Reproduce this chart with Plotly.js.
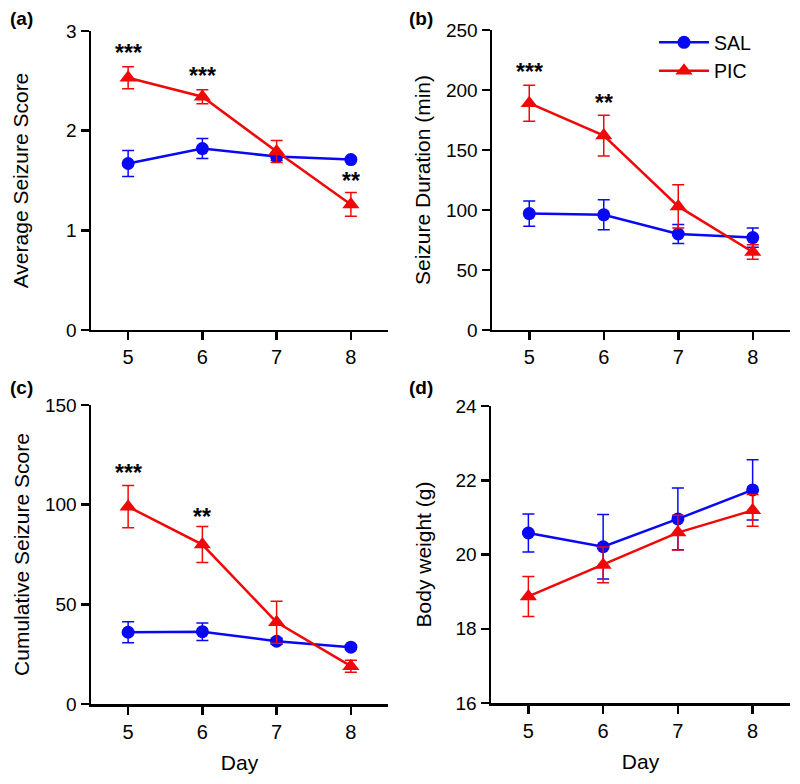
<!DOCTYPE html>
<html>
<head>
<meta charset="utf-8">
<script src="https://cdn.plot.ly/plotly-3.0.1.min.js"></script>
<style>html,body{margin:0;padding:0;background:#fff;}#chart{width:800px;height:784px;}</style>
</head>
<body>
<div id="chart"></div>
<script>
// ---- data ----
var days = [5, 6, 7, 8];
var dayTicks = ['5', '6', '7', '8'];

// (a) Average Seizure Score
var aSal = [1.67, 1.82, 1.74, 1.71];
var aSalErr = [0.13, 0.10, 0.04, 0.02];
var aPic = [2.53, 2.34, 1.79, 1.26];
var aPicErr = [0.11, 0.07, 0.11, 0.12];

// (b) Seizure Duration (min)
var bSal = [97, 96, 80, 77];
var bSalErr = [10.5, 12.5, 8, 8];
var bPic = [189, 162, 103, 65];
var bPicErr = [15, 17, 18, 6];

// (c) Cumulative Seizure Score
var cSal = [36, 36.3, 31.5, 28.5];
var cSalErr = [5.3, 4.4, 1.5, 1];
var cPic = [99, 80, 41, 19];
var cPicErr = [10.6, 9, 10.5, 3];

// (d) Body weight (g)
var dSal = [20.58, 20.21, 20.96, 21.74];
var dSalErr = [0.51, 0.87, 0.83, 0.81];
var dPic = [18.87, 19.72, 20.59, 21.19];
var dPicErr = [0.54, 0.48, 0.47, 0.43];

// significance marks
var aStarDays = [5, 6, 8];
var aStarText = ['***', '***', '**'];
var aStarY = [2.78, 2.55, 1.49];
var bStarDays = [5, 6];
var bStarText = ['***', '**'];
var bStarY = [215, 189];
var cStarDays = [5, 6];
var cStarText = ['***', '**'];
var cStarY = [116, 94];

var panelLabels = ['(a)', '(b)', '(c)', '(d)'];
var yTitles = ['Average Seizure Score', 'Seizure Duration (min)', 'Cumulative Seizure Score', 'Body weight (g)'];
var xTitle = 'Day';
var seriesNames = ['SAL', 'PIC'];

// ---- styling ----
var BLUE = 'rgb(8,8,245)';
var RED = 'rgb(240,8,8)';
var FONT = 'Liberation Sans, Arial, sans-serif';

function series(y, err, name, color, symbol, xa, ya, showLeg) {
  return {
    x: days, y: y, name: name, type: 'scatter', mode: 'lines+markers',
    xaxis: xa, yaxis: ya, showlegend: showLeg, legendgroup: name,
    line: {color: color, width: 2.5},
    marker: {color: color, size: symbol === 'circle' ? 13 : 15, symbol: symbol},
    error_y: {type: 'data', array: err, visible: true, color: color, thickness: 1.5, width: 6},
    cliponaxis: false
  };
}

var data = [
  series(aSal, aSalErr, seriesNames[0], BLUE, 'circle', 'x', 'y', true),
  series(aPic, aPicErr, seriesNames[1], RED, 'triangle-up', 'x', 'y', true),
  series(bSal, bSalErr, seriesNames[0], BLUE, 'circle', 'x2', 'y2', false),
  series(bPic, bPicErr, seriesNames[1], RED, 'triangle-up', 'x2', 'y2', false),
  series(cSal, cSalErr, seriesNames[0], BLUE, 'circle', 'x3', 'y3', false),
  series(cPic, cPicErr, seriesNames[1], RED, 'triangle-up', 'x3', 'y3', false),
  series(dSal, dSalErr, seriesNames[0], BLUE, 'circle', 'x4', 'y4', false),
  series(dPic, dPicErr, seriesNames[1], RED, 'triangle-up', 'x4', 'y4', false)
];

function xAxis(domain, anchor, title) {
  var ax = {
    domain: domain, anchor: anchor, range: [4.5, 8.5],
    tickmode: 'array', tickvals: days, ticktext: dayTicks,
    showline: true, linecolor: '#000', linewidth: 2.5,
    ticks: 'outside', ticklen: 8, tickwidth: 2.5, tickcolor: '#000',
    showgrid: false, zeroline: false,
    tickfont: {family: FONT, size: 20, color: '#000'}
  };
  if (title) ax.title = {text: title, font: {family: FONT, size: 21, color: '#000'}, standoff: 14};
  return ax;
}
function yAxis(domain, anchor, range, dtick, title, standoff) {
  return {
    domain: domain, anchor: anchor, range: range, dtick: dtick, tick0: range[0],
    showline: true, linecolor: '#000', linewidth: 2.5,
    ticks: 'outside', ticklen: 8, tickwidth: 2.5, tickcolor: '#000',
    showgrid: false, zeroline: false,
    tickfont: {family: FONT, size: 19, color: '#000'},
    title: {text: title, font: {family: FONT, size: 21, color: '#000'}, standoff: standoff}
  };
}

var annotations = [];
function addStars(xs, ys, texts, xref, yref) {
  for (var i = 0; i < xs.length; i++) {
    annotations.push({x: xs[i], y: ys[i], xref: xref, yref: yref, text: texts[i], showarrow: false,
      font: {family: FONT, size: 23, color: '#000', weight: 'bold'}, xanchor: 'center', yanchor: 'middle'});
  }
}
addStars(aStarDays, aStarY, aStarText, 'x', 'y');
addStars(bStarDays, bStarY, bStarText, 'x2', 'y2');
addStars(cStarDays, cStarY, cStarText, 'x3', 'y3');

var labelPos = [[21, 18], [421, 18], [21, 387], [421, 387]];
for (var k = 0; k < 4; k++) {
  annotations.push({x: labelPos[k][0] / 800, y: 1 - labelPos[k][1] / 784, xref: 'paper', yref: 'paper',
    text: '<b>' + panelLabels[k] + '</b>', showarrow: false, xanchor: 'center', yanchor: 'middle',
    font: {family: FONT, size: 19, color: '#000'}});
}

var layout = {
  width: 800, height: 784,
  margin: {l: 0, r: 0, t: 0, b: 0},
  paper_bgcolor: '#fff', plot_bgcolor: '#fff',
  font: {family: FONT, color: '#000'},
  showlegend: true,
  legend: {x: 0.8175, y: 0.9705, xanchor: 'left', yanchor: 'top', bgcolor: 'rgba(0,0,0,0)',
    font: {family: FONT, size: 19.5, color: '#000'}, itemwidth: 50, tracegroupgap: 0},
  xaxis: xAxis([0.11375, 0.485], 'y'),
  yaxis: yAxis([0.5791, 0.9605], 'x', [0, 3], 1, yTitles[0], 32),
  xaxis2: xAxis([0.615, 0.9875], 'y2'),
  yaxis2: yAxis([0.5791, 0.9617], 'x2', [0, 250], 50, yTitles[1], 10),
  xaxis3: xAxis([0.11375, 0.485], 'y3', xTitle),
  yaxis3: yAxis([0.1020, 0.4834], 'x3', [0, 150], 50, yTitles[2], 10),
  xaxis4: xAxis([0.61375, 0.9875], 'y4', xTitle),
  yaxis4: yAxis([0.1033, 0.4821], 'x4', [16, 24], 2, yTitles[3], 18),
  annotations: annotations
};

Plotly.newPlot('chart', data, layout, {displayModeBar: false, staticPlot: true});
</script>
</body>
</html>
